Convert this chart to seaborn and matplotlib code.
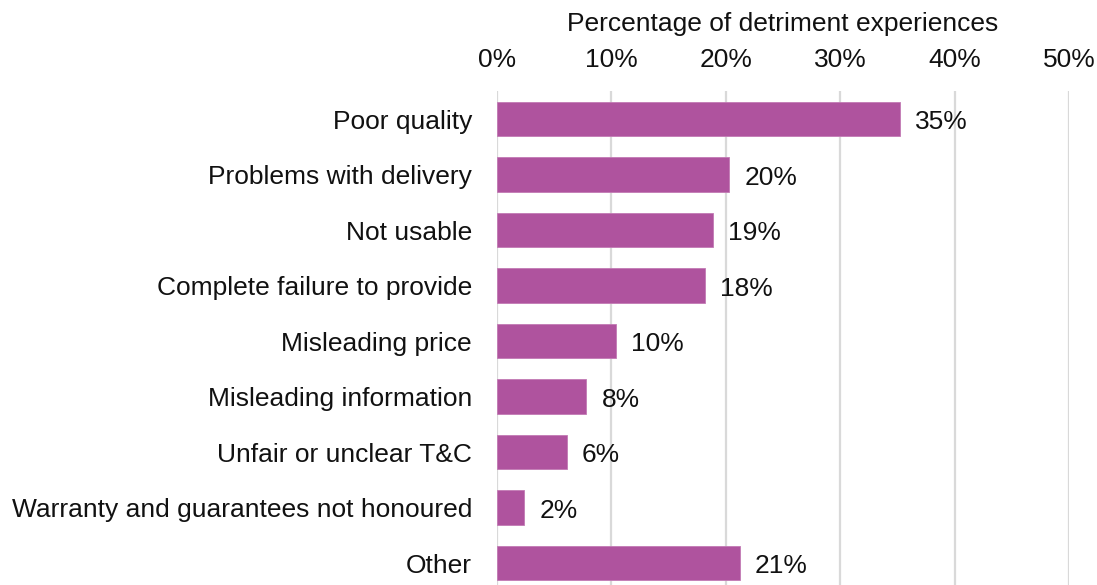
import matplotlib
matplotlib.use("Agg")
import matplotlib.pyplot as plt
import seaborn as sns
import pandas as pd

categories = [
    "Poor quality",
    "Problems with delivery",
    "Not usable",
    "Complete failure to provide",
    "Misleading price",
    "Misleading information",
    "Unfair or unclear T&C",
    "Warranty and guarantees not honoured",
    "Other",
]
values = [35.2, 20.3, 18.9, 18.2, 10.4, 7.8, 6.1, 2.4, 21.2]
x_ticks = [0, 10, 20, 30, 40, 50]

bar_color = "#AF539E"
grid_color = "#D9D9D9"
text_color = "#111111"
fs = 19

sns.set_theme(style="white")
plt.rcParams["font.family"] = ["Liberation Sans", "DejaVu Sans"]

df = pd.DataFrame({"category": categories, "value": values})

fig = plt.figure(figsize=(10.97, 5.85), dpi=100)
ax = fig.add_axes([0.453, 0.0, 0.5215, 0.844])

sns.barplot(data=df, x="value", y="category", orient="h", color=bar_color,
            saturation=1, width=0.62, ax=ax, zorder=3)

for patch in ax.patches:
    patch.set_edgecolor("#C27AB4")
    patch.set_linewidth(0.6)

for i, v in enumerate(values):
    ax.annotate(f"{v:.0f}%", xy=(v, i), xytext=(11, -2.5), textcoords="offset points",
                va="center", ha="left", fontsize=fs, color=text_color)

ax.set_xlim(0, 50)
ax.set_ylim(8.396, -0.5)
ax.set_xticks(x_ticks)
ax.set_xticklabels([f"{t}%" for t in x_ticks])
ax.xaxis.tick_top()
ax.xaxis.set_label_position("top")
ax.set_xlabel("Percentage of detriment experiences", fontsize=fs, labelpad=12, color=text_color)
ax.set_ylabel("")
ax.tick_params(axis="x", length=0, pad=14, labelsize=fs, colors=text_color)
ax.tick_params(axis="y", length=0, pad=18, labelsize=fs, colors=text_color)

ax.grid(axis="x", color=grid_color, linewidth=1.6, zorder=0)
ax.grid(axis="y", visible=False)
for s in ax.spines.values():
    s.set_visible(False)

fig.savefig("out.png", dpi=100)
